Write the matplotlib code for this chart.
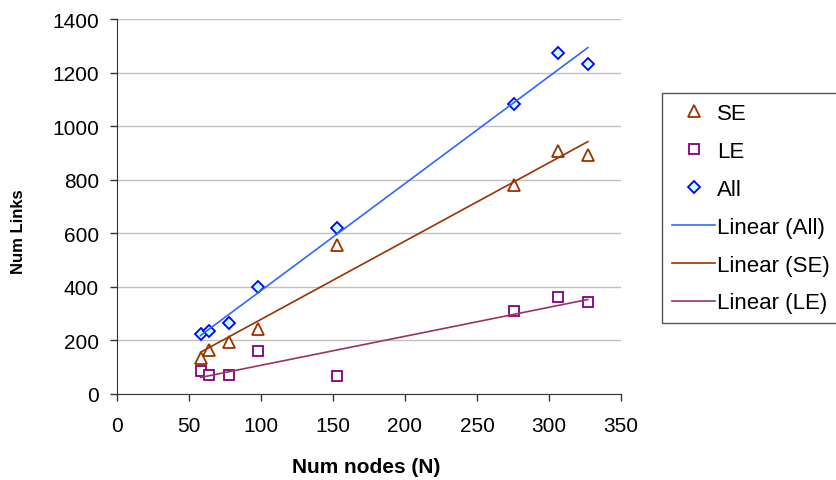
import numpy as np
from matplotlib import pyplot as plt

plt.rcParams['font.family'] = ['Liberation Sans', 'DejaVu Sans']

# number of nodes and links
nodes = [58, 64, 78, 98, 153, 276, 306, 327]
links_se = [133, 163, 193, 242, 556, 780, 907, 892]
links_le = [85, 70, 70, 160, 66, 309, 361, 343]
links_all = [223, 234, 264, 399, 619, 1083, 1273, 1232]

x_ticks = [0, 50, 100, 150, 200, 250, 300, 350]
y_ticks = [0, 200, 400, 600, 800, 1000, 1200, 1400]

fig = plt.figure(figsize=(8.36, 4.81), dpi=100)
ax = fig.add_axes([117 / 836, 1 - 395 / 481, 504 / 836, 375 / 481])

x = np.array(nodes)
ax.plot(x, links_se, ls='none', marker='^', ms=8, mfc='white', mec='#993300', mew=1.3,
        label='SE', zorder=3)
ax.plot(x, links_le, ls='none', marker='s', ms=6.5, mfc='white', mec='#800080', mew=1.3,
        label='LE', zorder=3)
ax.plot(x, links_all, ls='none', marker='D', ms=6, mfc='#ccffff', mec='#0000ff', mew=1.3,
        label='All', zorder=3)

# excel style linear trend lines
xs = np.array([x.min(), x.max()])
for ys, col, name in [(links_all, '#3366ff', 'Linear (All)'),
                      (links_se, '#993300', 'Linear (SE)'),
                      (links_le, '#993366', 'Linear (LE)')]:
    k, b = np.polyfit(x, ys, 1)
    ax.plot(xs, k * xs + b, color=col, lw=1.2, label=name, zorder=4)

ax.set_xlim(0, 350)
ax.set_ylim(0, 1400)
ax.set_xticks(x_ticks)
ax.set_yticks(y_ticks)
ax.yaxis.grid(True, color='#c0c0c0', lw=1)
ax.set_axisbelow(True)
for s in ['top', 'right']:
    ax.spines[s].set_visible(False)
for s in ['left', 'bottom']:
    ax.spines[s].set_color('#333333')
ax.tick_params(direction='out', length=5, width=1, colors='#333333', labelcolor='black',
               labelsize=15)
ax.tick_params(axis='y', pad=8)
ax.tick_params(axis='x', pad=11)

fig.text(366 / 836, 1 - 468 / 481, 'Num nodes (N)', ha='center', va='center',
         fontsize=15, fontweight='bold')
fig.text(19 / 836, 1 - 232 / 481, 'Num Links', ha='center', va='center',
         rotation=90, fontsize=12, fontweight='bold')

leg = fig.legend(loc='upper left', bbox_to_anchor=(662 / 836, 1 - 94 / 481), borderaxespad=0,
                 fontsize=16, handlelength=1.94, handletextpad=0.1, labelspacing=0.76,
                 borderpad=0.45, fancybox=False, framealpha=1, numpoints=1)
leg.get_frame().set_edgecolor('#555555')
leg.get_frame().set_linewidth(1)

plt.savefig('out.png', dpi=100)
